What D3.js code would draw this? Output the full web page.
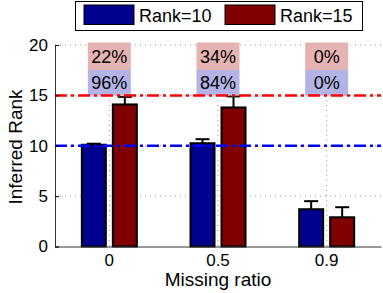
<!DOCTYPE html>
<html><head><meta charset="utf-8">
<script src="https://cdn.jsdelivr.net/npm/d3@7"></script>
<style>body{margin:0;background:#fff}svg{display:block;font-family:"Liberation Sans",Arial,sans-serif}</style>
</head><body><svg id="c" width="383" height="293"></svg>
<script>
const categories = ["0", "0.5", "0.9"];
const seriesNames = ["Rank=10", "Rank=15"];
const rank10 = [10.1, 10.25, 3.7];
const rank15 = [14.1, 13.8, 2.9];
const err10 = [0.1, 0.4, 0.8];
const err15 = [0.75, 1.1, 1.0];
const pctTop = ["22%", "34%", "0%"];
const pctBottom = ["96%", "84%", "0%"];
const yTicks = [0, 5, 10, 15, 20];
const refLines = [15, 10];

const colors = ["#00008f", "#800000"];
const svg = d3.select("#c");
const L = 55, R = 381, T = 45, B = 246.5;
const x = d3.scaleBand().domain(categories).range([L, R]).paddingInner(0).paddingOuter(0);
const y = d3.scaleLinear().domain([0, 20]).range([B, T]);
const cx = c => x(c) + x.bandwidth() / 2;
const sub = d3.scaleBand().domain([0, 1]).range([-27.5, 27.5]).paddingInner(0.226);

// grid
const g = svg.append("g");
g.selectAll(".gy").data(yTicks.filter(d => d > 0)).join("line")
  .attr("x1", L).attr("x2", R).attr("y1", d => y(d)).attr("y2", d => y(d))
  .attr("stroke", "#999").attr("stroke-width", 1).attr("stroke-dasharray", "1,4");
g.selectAll(".gx").data(categories).join("line")
  .attr("x1", d => cx(d)).attr("x2", d => cx(d)).attr("y1", T).attr("y2", B)
  .attr("stroke", "#999").attr("stroke-width", 1).attr("stroke-dasharray", "1,4");

// bars
const series = [rank10, rank15];
const errs = [err10, err15];
series.forEach((vals, si) => {
  const gs = svg.append("g");
  categories.forEach((c, i) => {
    const x0 = cx(c) + sub(si);
    const w = sub.bandwidth();
    const top = y(vals[i] + errs[si][i]);
    gs.append("line").attr("x1", x0 + w / 2).attr("x2", x0 + w / 2)
      .attr("y1", y(vals[i])).attr("y2", top).attr("stroke", "#000").attr("stroke-width", 2);
    gs.append("line").attr("x1", x0 + w / 2 - 7).attr("x2", x0 + w / 2 + 7)
      .attr("y1", top).attr("y2", top).attr("stroke", "#000").attr("stroke-width", 2);
    gs.append("rect").attr("x", x0).attr("y", y(vals[i])).attr("width", w)
      .attr("height", y(0) - y(vals[i])).attr("fill", colors[si])
      .attr("stroke", "#000").attr("stroke-width", 2);
  });
});

// percent boxes
categories.forEach((c, i) => {
  const bw = 43;
  const bx = cx(c) - bw / 2;
  svg.append("rect").attr("x", bx).attr("y", 42.5).attr("width", bw).attr("height", 27.5).attr("fill", "#e6b3b3");
  svg.append("rect").attr("x", bx).attr("y", 70).attr("width", bw).attr("height", 25.5).attr("fill", "#b3b3e6");
  svg.append("text").attr("x", cx(c)).attr("y", 63).attr("text-anchor", "middle")
    .attr("font-size", 18).text(pctTop[i]);
  svg.append("text").attr("x", cx(c)).attr("y", 89).attr("text-anchor", "middle")
    .attr("font-size", 18).text(pctBottom[i]);
});

// reference lines
const refColors = ["#ff0000", "#0000ff"];
refLines.forEach((v, i) => {
  svg.append("line").attr("x1", L).attr("x2", R).attr("y1", y(v)).attr("y2", y(v))
    .attr("stroke", refColors[i]).attr("stroke-width", 2.5).attr("stroke-dasharray", "12,4,3,4");
});

// axes
const ya = svg.append("g").attr("transform", `translate(${L},0)`)
  .call(d3.axisLeft(y).tickValues(yTicks).tickSize(-4).tickPadding(7));
ya.select(".domain").attr("stroke", "#333");
ya.selectAll("text").attr("font-size", 17).attr("fill", "#000").attr("font-family", "Liberation Sans, Arial, sans-serif");
const xa = svg.append("g").attr("transform", `translate(0,${B})`)
  .call(d3.axisBottom(x).tickSize(0).tickPadding(7));
xa.select(".domain").attr("stroke", "#333");
xa.selectAll("text").attr("font-size", 17).attr("fill", "#000").attr("font-family", "Liberation Sans, Arial, sans-serif");

svg.append("text").attr("x", 218).attr("y", 286).attr("text-anchor", "middle")
  .attr("font-size", 19).text("Missing ratio");
svg.append("text").attr("transform", "translate(22,147) rotate(-90)").attr("text-anchor", "middle")
  .attr("font-size", 19).text("Inferred Rank");

// legend
const lg = svg.append("g");
lg.append("rect").attr("x", 75.5).attr("y", 1.5).attr("width", 287).attr("height", 29)
  .attr("fill", "#fff").attr("stroke", "#000").attr("stroke-width", 1);
const legX = [84, 225];
seriesNames.forEach((n, i) => {
  lg.append("rect").attr("x", legX[i]).attr("y", 5).attr("width", 50).attr("height", 19.5)
    .attr("fill", colors[i]).attr("stroke", "#000").attr("stroke-width", 1);
  lg.append("text").attr("x", legX[i] + 55).attr("y", 22).attr("font-size", 18).text(n);
});
</script></body></html>
